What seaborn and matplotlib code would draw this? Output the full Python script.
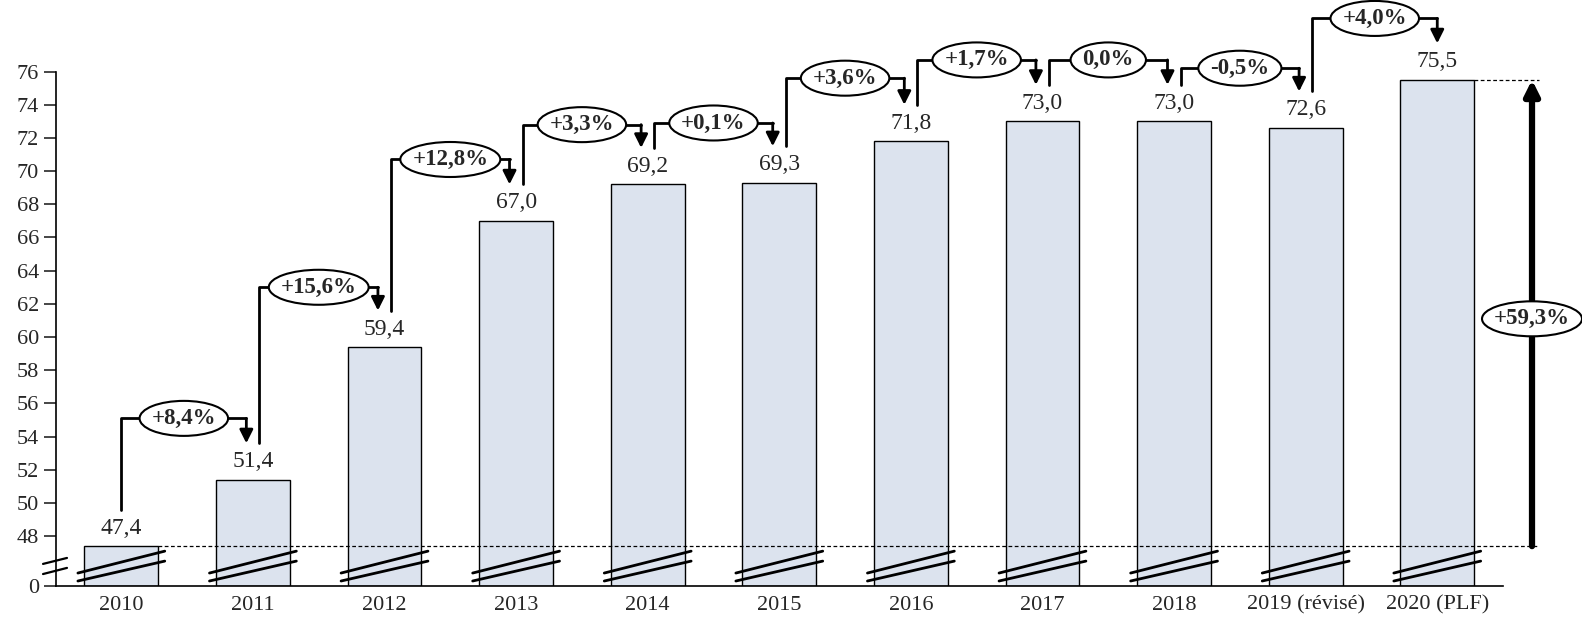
import matplotlib
matplotlib.use("Agg")
import matplotlib.pyplot as plt
from matplotlib.patches import Ellipse
import seaborn as sns
import pandas as pd

# data
years = ["2010", "2011", "2012", "2013", "2014", "2015", "2016", "2017", "2018",
         "2019 (révisé)", "2020 (PLF)"]
values = [47.4, 51.4, 59.4, 67.0, 69.2, 69.3, 71.8, 73.0, 73.0, 72.6, 75.5]
value_labels = ["47,4", "51,4", "59,4", "67,0", "69,2", "69,3", "71,8", "73,0", "73,0",
                "72,6", "75,5"]
pct_labels = ["+8,4%", "+15,6%", "+12,8%", "+3,3%", "+0,1%", "+3,6%", "+1,7%", "0,0%",
              "-0,5%", "+4,0%"]
total_label = "+59,3%"

# height of each elbow connector (in axis values)
elbow_levels = [55.1, 63.0, 70.7, 72.8, 72.9, 75.6, 76.7, 76.7, 76.2, 79.2]

BASE = 45  # value shown at the bottom of the broken axis (labelled "0")

sns.set_style("white")
plt.rcParams['font.family'] = ['Liberation Serif', 'DejaVu Serif']

df = pd.DataFrame({"year": years, "h": [v - BASE for v in values]})

fig = plt.figure(figsize=(15.82, 6.32), dpi=100)
ax = fig.add_axes([0.0351, 0.0728, 0.915, 0.814])

sns.barplot(data=df, x="year", y="h", color="#DCE3EE", saturation=1,
            edgecolor="black", linewidth=1, width=0.56, ax=ax)

ax.set_xlim(-0.5, 10.5)
ax.set_ylim(0, 76 - BASE)
ticks = [0] + list(range(48, 77, 2))
ax.set_yticks([t - BASE if t else 0 for t in ticks])
ax.set_yticklabels([str(t) for t in ticks], fontsize=16)
ax.tick_params(axis="y", direction="out", length=9, width=1.2, left=True, pad=3)
ax.tick_params(axis="x", length=0, labelsize=16, pad=7)
ax.set_xlabel("")
ax.set_ylabel("")
for s in ["top", "right"]:
    ax.spines[s].set_visible(False)
for s in ["left", "bottom"]:
    ax.spines[s].set_color("black")
    ax.spines[s].set_linewidth(1.2)

# value labels
for i, v in enumerate(values):
    ax.text(i, v - BASE + 0.45, value_labels[i], ha="center", va="bottom", fontsize=17)

# break marks on bars and y axis
for i in range(len(values)):
    ax.plot([i - 0.33, i + 0.33], [0.78, 2.1], color="black", lw=2, zorder=4, clip_on=False)
    ax.plot([i - 0.33, i + 0.33], [0.3, 1.5], color="black", lw=2, zorder=4, clip_on=False)
ax.plot([-0.595, -0.413], [1.33, 1.69], color="black", lw=1.6, clip_on=False)
ax.plot([-0.595, -0.413], [0.72, 1.09], color="black", lw=1.6, clip_on=False)

# elbow connectors
bubbles = []
n = len(values)
for i in range(n - 1):
    x0 = i + (0.05 if i > 0 else 0)
    x1 = i + 1 - (0.05 if i + 1 < n - 1 else 0)
    y0 = values[i] - BASE + 2.2
    y1 = values[i + 1] - BASE + 2.2
    lv = elbow_levels[i] - BASE
    ax.plot([x0, x0, x1], [y0, lv, lv], color="black", lw=2, clip_on=False, zorder=5)
    ax.annotate("", xy=(x1, y1), xytext=(x1, lv),
                arrowprops=dict(arrowstyle="-|>", color="black", lw=2,
                                mutation_scale=20, shrinkA=0, shrinkB=0),
                annotation_clip=False, zorder=5)
    t = ax.text((x0 + x1) / 2, lv, pct_labels[i], ha="center", va="center", fontsize=16.5,
                fontweight="bold", zorder=7, clip_on=False)
    bubbles.append(t)

# total growth arrow
xa = 10.72
ax.plot([0.28, 10.77], [values[0] - BASE] * 2, color="black", lw=0.9, ls=(0, (3, 2)),
        clip_on=False, zorder=3)
ax.plot([10.28, 10.77], [values[-1] - BASE] * 2, color="black", lw=0.9, ls=(0, (3, 2)),
        clip_on=False, zorder=3)
ax.annotate("", xy=(xa, values[-1] - BASE), xytext=(xa, values[0] - BASE),
            arrowprops=dict(arrowstyle="-|>", color="black", lw=4.5,
                            mutation_scale=22, shrinkA=0, shrinkB=0),
            annotation_clip=False)
t = ax.text(xa, 61.1 - BASE, total_label, ha="center", va="center", fontsize=16.5,
            fontweight="bold", zorder=7, clip_on=False)
bubbles.append(t)

# ellipses sized around the label text
fig.canvas.draw()
r = fig.canvas.get_renderer()
px_x = ax.transData.transform((1, 0))[0] - ax.transData.transform((0, 0))[0]
px_y = ax.transData.transform((0, 1))[1] - ax.transData.transform((0, 0))[1]
for t in bubbles:
    bb = t.get_window_extent(r)
    cx, cy = t.get_position()
    e = Ellipse((cx, cy), (bb.width + 24) / px_x, 35 / px_y, fc="white", ec="black",
                lw=1.5, zorder=6, clip_on=False)
    ax.add_patch(e)

fig.savefig("out.png", dpi=100)
